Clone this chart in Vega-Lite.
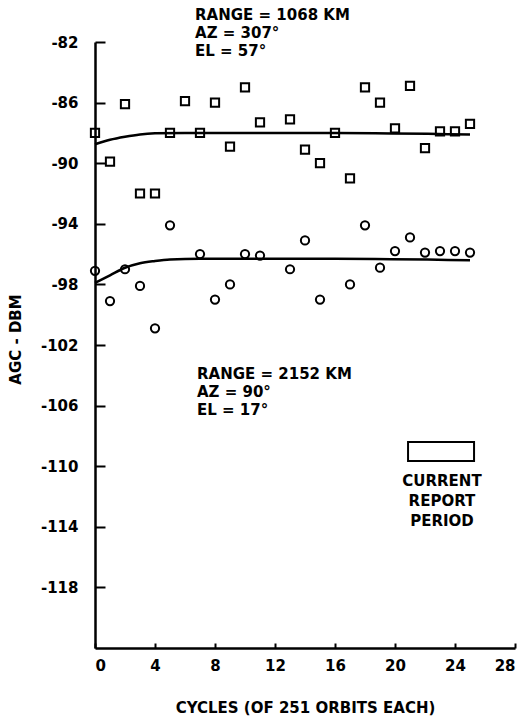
{
  "$schema": "https://vega.github.io/schema/vega-lite/v6.json",
  "width": 420,
  "height": 606,
  "autosize": {"type": "none"},
  "padding": {"left": 95, "top": 42, "right": 4, "bottom": 69},
  "background": "white",
  "config": {
    "view": {"stroke": null},
    "font": "DejaVu Sans",
    "axis": {
      "domainColor": "black",
      "domainWidth": 2.5,
      "tickColor": "black",
      "tickWidth": 2,
      "grid": false,
      "labelColor": "black",
      "labelFont": "DejaVu Sans",
      "labelFontWeight": "bold",
      "labelFontSize": 15,
      "titleColor": "black",
      "titleFont": "DejaVu Sans",
      "titleFontWeight": "bold",
      "titleFontSize": 15
    }
  },
  "datasets": {
    "obs": [
      {"cycle": 0, "agc": -88.0, "site": "1068 KM"},
      {"cycle": 1, "agc": -89.9, "site": "1068 KM"},
      {"cycle": 2, "agc": -86.1, "site": "1068 KM"},
      {"cycle": 3, "agc": -92.0, "site": "1068 KM"},
      {"cycle": 4, "agc": -92.0, "site": "1068 KM"},
      {"cycle": 5, "agc": -88.0, "site": "1068 KM"},
      {"cycle": 6, "agc": -85.9, "site": "1068 KM"},
      {"cycle": 7, "agc": -88.0, "site": "1068 KM"},
      {"cycle": 8, "agc": -86.0, "site": "1068 KM"},
      {"cycle": 9, "agc": -88.9, "site": "1068 KM"},
      {"cycle": 10, "agc": -85.0, "site": "1068 KM"},
      {"cycle": 11, "agc": -87.3, "site": "1068 KM"},
      {"cycle": 13, "agc": -87.1, "site": "1068 KM"},
      {"cycle": 14, "agc": -89.1, "site": "1068 KM"},
      {"cycle": 15, "agc": -90.0, "site": "1068 KM"},
      {"cycle": 16, "agc": -88.0, "site": "1068 KM"},
      {"cycle": 17, "agc": -91.0, "site": "1068 KM"},
      {"cycle": 18, "agc": -85.0, "site": "1068 KM"},
      {"cycle": 19, "agc": -86.0, "site": "1068 KM"},
      {"cycle": 20, "agc": -87.7, "site": "1068 KM"},
      {"cycle": 21, "agc": -84.9, "site": "1068 KM"},
      {"cycle": 22, "agc": -89.0, "site": "1068 KM"},
      {"cycle": 23, "agc": -87.9, "site": "1068 KM"},
      {"cycle": 24, "agc": -87.9, "site": "1068 KM"},
      {"cycle": 25, "agc": -87.4, "site": "1068 KM"},
      {"cycle": 0, "agc": -97.1, "site": "2152 KM"},
      {"cycle": 1, "agc": -99.1, "site": "2152 KM"},
      {"cycle": 2, "agc": -97.0, "site": "2152 KM"},
      {"cycle": 3, "agc": -98.1, "site": "2152 KM"},
      {"cycle": 4, "agc": -100.9, "site": "2152 KM"},
      {"cycle": 5, "agc": -94.1, "site": "2152 KM"},
      {"cycle": 7, "agc": -96.0, "site": "2152 KM"},
      {"cycle": 8, "agc": -99.0, "site": "2152 KM"},
      {"cycle": 9, "agc": -98.0, "site": "2152 KM"},
      {"cycle": 10, "agc": -96.0, "site": "2152 KM"},
      {"cycle": 11, "agc": -96.1, "site": "2152 KM"},
      {"cycle": 13, "agc": -97.0, "site": "2152 KM"},
      {"cycle": 14, "agc": -95.1, "site": "2152 KM"},
      {"cycle": 15, "agc": -99.0, "site": "2152 KM"},
      {"cycle": 17, "agc": -98.0, "site": "2152 KM"},
      {"cycle": 18, "agc": -94.1, "site": "2152 KM"},
      {"cycle": 19, "agc": -96.9, "site": "2152 KM"},
      {"cycle": 20, "agc": -95.8, "site": "2152 KM"},
      {"cycle": 21, "agc": -94.9, "site": "2152 KM"},
      {"cycle": 22, "agc": -95.9, "site": "2152 KM"},
      {"cycle": 23, "agc": -95.8, "site": "2152 KM"},
      {"cycle": 24, "agc": -95.8, "site": "2152 KM"},
      {"cycle": 25, "agc": -95.9, "site": "2152 KM"}
    ],
    "fit": [
      {"cycle": 0, "agc": -88.75, "site": "1068 KM"},
      {"cycle": 1, "agc": -88.45, "site": "1068 KM"},
      {"cycle": 2, "agc": -88.25, "site": "1068 KM"},
      {"cycle": 3, "agc": -88.1, "site": "1068 KM"},
      {"cycle": 4, "agc": -88.03, "site": "1068 KM"},
      {"cycle": 6, "agc": -88.0, "site": "1068 KM"},
      {"cycle": 16, "agc": -88.0, "site": "1068 KM"},
      {"cycle": 25, "agc": -88.1, "site": "1068 KM"},
      {"cycle": 0, "agc": -97.9, "site": "2152 KM"},
      {"cycle": 1, "agc": -97.4, "site": "2152 KM"},
      {"cycle": 2, "agc": -96.9, "site": "2152 KM"},
      {"cycle": 3, "agc": -96.6, "site": "2152 KM"},
      {"cycle": 4, "agc": -96.45, "site": "2152 KM"},
      {"cycle": 5, "agc": -96.35, "site": "2152 KM"},
      {"cycle": 7, "agc": -96.3, "site": "2152 KM"},
      {"cycle": 16, "agc": -96.3, "site": "2152 KM"},
      {"cycle": 25, "agc": -96.4, "site": "2152 KM"}
    ],
    "notes": [
      {"cycle": 6.67, "agc": -79.75, "text": "RANGE = 1068 KM\nAZ = 307°\nEL = 57°"},
      {"cycle": 6.8, "agc": -103.45, "text": "RANGE = 2152 KM\nAZ = 90°\nEL = 17°"}
    ],
    "legendnote": [
      {"cycle": 23.13, "agc": -110.53, "text": "CURRENT\nREPORT\nPERIOD"}
    ],
    "period": [
      {"start": 20.87, "end": 25.27, "top": -108.4, "bottom": -109.66}
    ]
  },
  "layer": [
    {
      "data": {"name": "fit"},
      "mark": {"type": "line", "interpolate": "monotone", "color": "black", "strokeWidth": 2.5},
      "encoding": {
        "x": {"field": "cycle", "type": "quantitative", "scale": {"domain": [0, 28], "nice": false, "zero": false},
          "axis": {"values": [0, 4, 8, 12, 16, 20, 24, 28], "tickSize": -5, "labelPadding": 15, "title": "CYCLES (OF 251 ORBITS EACH)", "titlePadding": 27}},
        "y": {"field": "agc", "type": "quantitative", "scale": {"domain": [-122, -82], "nice": false, "zero": false},
          "axis": {"values": [-82, -86, -90, -94, -98, -102, -106, -110, -114, -118], "tickSize": -10, "labelPadding": 27,
            "labelExpr": "replace(datum.label, '−', '-')", "title": "AGC - DBM", "titleX": -80, "titleY": 297, "titleAngle": -90, "titleBaseline": "middle", "titleAlign": "center"}},
        "detail": {"field": "site"}
      }
    },
    {
      "data": {"name": "obs"},
      "mark": {"type": "point", "filled": false, "color": "black", "strokeWidth": 2, "size": 68, "opacity": 1},
      "encoding": {
        "x": {"field": "cycle", "type": "quantitative"},
        "y": {"field": "agc", "type": "quantitative"},
        "shape": {"field": "site", "type": "nominal", "scale": {"domain": ["1068 KM", "2152 KM"], "range": ["square", "circle"]}, "legend": null}
      }
    },
    {
      "data": {"name": "period"},
      "mark": {"type": "rect", "fill": null, "stroke": "black", "strokeWidth": 2},
      "encoding": {
        "x": {"field": "start", "type": "quantitative"},
        "x2": {"field": "end"},
        "y": {"field": "top", "type": "quantitative"},
        "y2": {"field": "bottom"}
      }
    },
    {
      "data": {"name": "notes"},
      "mark": {"type": "text", "align": "left", "baseline": "top", "lineBreak": "\n", "lineHeight": 18, "fontSize": 15, "fontWeight": "bold", "font": "DejaVu Sans", "color": "black"},
      "encoding": {
        "x": {"field": "cycle", "type": "quantitative"},
        "y": {"field": "agc", "type": "quantitative"},
        "text": {"field": "text"}
      }
    },
    {
      "data": {"name": "legendnote"},
      "mark": {"type": "text", "align": "center", "baseline": "top", "lineBreak": "\n", "lineHeight": 20, "fontSize": 15, "fontWeight": "bold", "font": "DejaVu Sans", "color": "black"},
      "encoding": {
        "x": {"field": "cycle", "type": "quantitative"},
        "y": {"field": "agc", "type": "quantitative"},
        "text": {"field": "text"}
      }
    }
  ]
}
